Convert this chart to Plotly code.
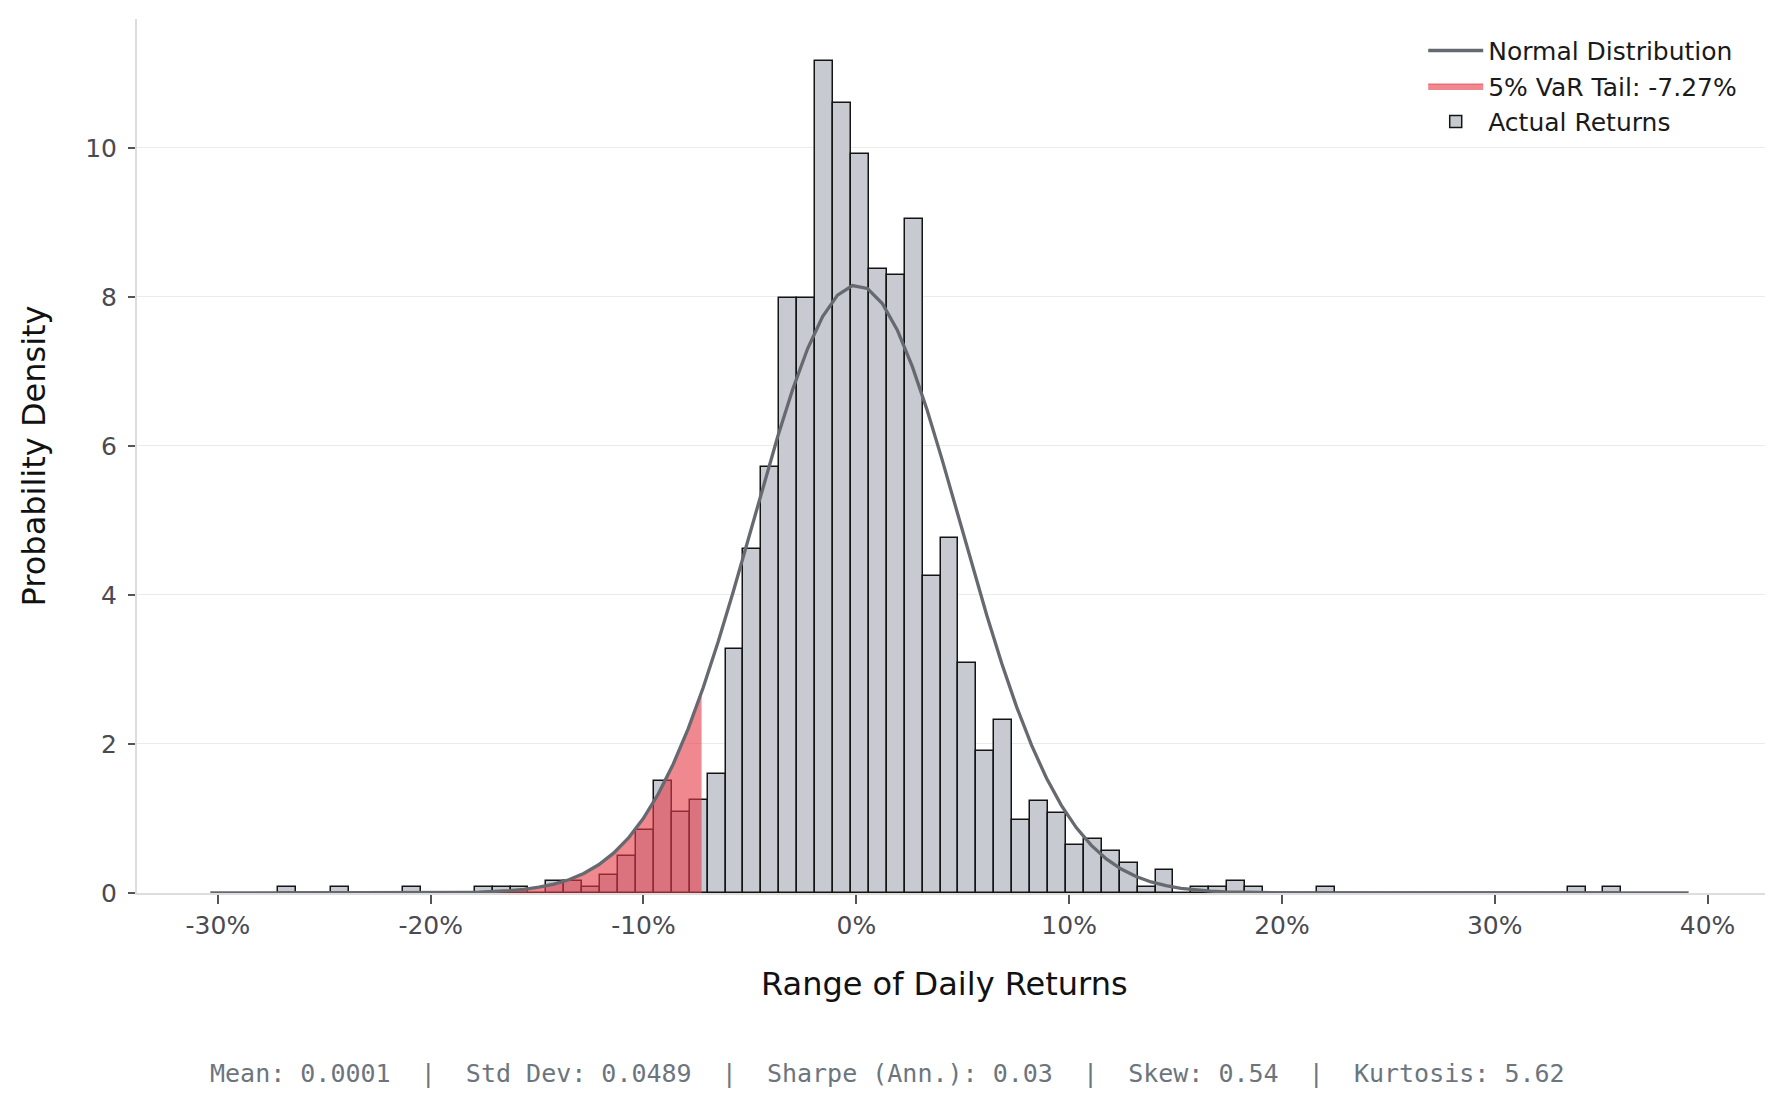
import numpy as np
import plotly.graph_objects as go

# %% Data
# histogram: 75 equal bins between the smallest and largest daily return
return_min = -0.2719
return_max = 0.3595
n_bins = 75
density = [
    0.08, 0, 0, 0.08, 0, 0, 0, 0.08, 0, 0,
    0, 0.08, 0.08, 0.08, 0, 0.16, 0.16, 0.08, 0.24, 0.50,
    0.84, 1.50, 1.09, 1.25, 1.60, 3.28, 4.62, 5.72, 7.98, 7.98,
    11.17, 10.60, 9.92, 8.37, 8.30, 9.04, 4.25, 4.76, 3.09, 1.91,
    2.32, 0.98, 1.24, 1.07, 0.65, 0.73, 0.57, 0.40, 0.08, 0.31,
    0, 0.08, 0.08, 0.16, 0.08, 0, 0, 0, 0.08, 0,
    0, 0, 0, 0, 0, 0, 0, 0, 0, 0,
    0, 0, 0.08, 0, 0.08,
]

# summary stats
mean_ret = 0.0001
std_ret = 0.0489
sharpe_ann = 0.03
skew = 0.54
kurtosis = 5.62
var_5 = -0.0727

# normal curve is drawn across the histogram's x-limits
curve_x_min = -0.3035
curve_x_max = 0.3911
n_curve_pts = 100

x_tick_vals = [-0.3, -0.2, -0.1, 0.0, 0.1, 0.2, 0.3, 0.4]
x_tick_text = ['-30%', '-20%', '-10%', '0%', '10%', '20%', '30%', '40%']
y_tick_vals = [0, 2, 4, 6, 8, 10]

# %% Derived series
edges = np.linspace(return_min, return_max, n_bins + 1)
centers = (edges[:-1] + edges[1:]) / 2
bin_w = edges[1] - edges[0]


def normal_pdf(x):
    return np.exp(-0.5 * ((x - mean_ret) / std_ret) ** 2) / (std_ret * np.sqrt(2 * np.pi))


curve_x = np.linspace(curve_x_min, curve_x_max, n_curve_pts)
curve_y = normal_pdf(curve_x)

tail_x = np.append(curve_x[curve_x <= var_5], var_5)
tail_y = normal_pdf(tail_x)

# %% Figure
fig = go.Figure()

fig.add_trace(go.Bar(
    x=centers,
    y=density,
    width=bin_w,
    marker=dict(color='#c7cbd1', line=dict(color='#141414', width=1.5)),
    name='Actual Returns',
    legendrank=3,
))

fig.add_trace(go.Scatter(
    x=tail_x,
    y=tail_y,
    mode='lines',
    fill='tozeroy',
    fillcolor='rgba(230,57,70,0.6)',
    line=dict(color='rgba(230,57,70,0.7)', width=1),
    name=f'5% VaR Tail: {var_5 * 100:.2f}%',
    legendrank=2,
))

fig.add_trace(go.Scatter(
    x=curve_x,
    y=curve_y,
    mode='lines',
    line=dict(color='#66696f', width=3.3),
    name='Normal Distribution',
    legendrank=1,
))

axis_font = dict(family='DejaVu Sans', size=25, color='#4a4a52')

fig.update_xaxes(
    range=[-0.338, 0.427],
    tickvals=x_tick_vals,
    ticktext=x_tick_text,
    tickfont=axis_font,
    ticks='outside', ticklen=9, tickwidth=1.5, tickcolor='#555555',
    showline=True, linecolor='#dddddd', linewidth=2,
    showgrid=False, zeroline=False,
)
fig.update_yaxes(
    range=[0, 11.73],
    tickvals=y_tick_vals,
    tickfont=axis_font,
    ticks='outside', ticklen=7, tickwidth=1.5, tickcolor='#555555',
    ticklabelstandoff=6,
    showline=True, linecolor='#dddddd', linewidth=2,
    showgrid=True, gridcolor='#ebebeb', gridwidth=1,
    zeroline=False,
)

# axis titles and stats footer
fig.add_annotation(
    text='Probability Density', xref='paper', yref='paper',
    x=-0.063, y=0.5, xanchor='center', yanchor='middle',
    textangle=-90, showarrow=False,
    font=dict(family='DejaVu Sans', size=32, color='#111111'),
)
fig.add_annotation(
    text='Range of Daily Returns', xref='paper', yref='paper',
    x=0.496, y=-0.104, xanchor='center', yanchor='middle', showarrow=False,
    font=dict(family='DejaVu Sans', size=32, color='#111111'),
)
footer = (f'Mean: {mean_ret:.4f}  |  Std Dev: {std_ret:.4f}  |  Sharpe (Ann.): {sharpe_ann:.2f}'
          f'  |  Skew: {skew:.2f}  |  Kurtosis: {kurtosis:.2f}')
fig.add_annotation(
    text=footer.replace(' ', '&nbsp;'), xref='paper', yref='paper',
    x=0.461, y=-0.206, xanchor='center', yanchor='middle', showarrow=False,
    font=dict(family='DejaVu Sans Mono', size=25, color='#6c757d'),
)

fig.update_layout(
    width=1777,
    height=1105,
    margin=dict(l=137, r=12, t=19, b=212),
    plot_bgcolor='white',
    paper_bgcolor='white',
    bargap=0,
    showlegend=True,
    legend=dict(
        x=0.986, y=0.99, xanchor='right', yanchor='top',
        font=dict(family='DejaVu Sans', size=25, color='#1a1a1a'),
        bgcolor='rgba(255,255,255,0)',
        itemwidth=55,
        tracegroupgap=0,
    ),
)

fig.write_html("out.html", config={'displayModeBar': False},
               post_script="document.body.style.margin='0';")
